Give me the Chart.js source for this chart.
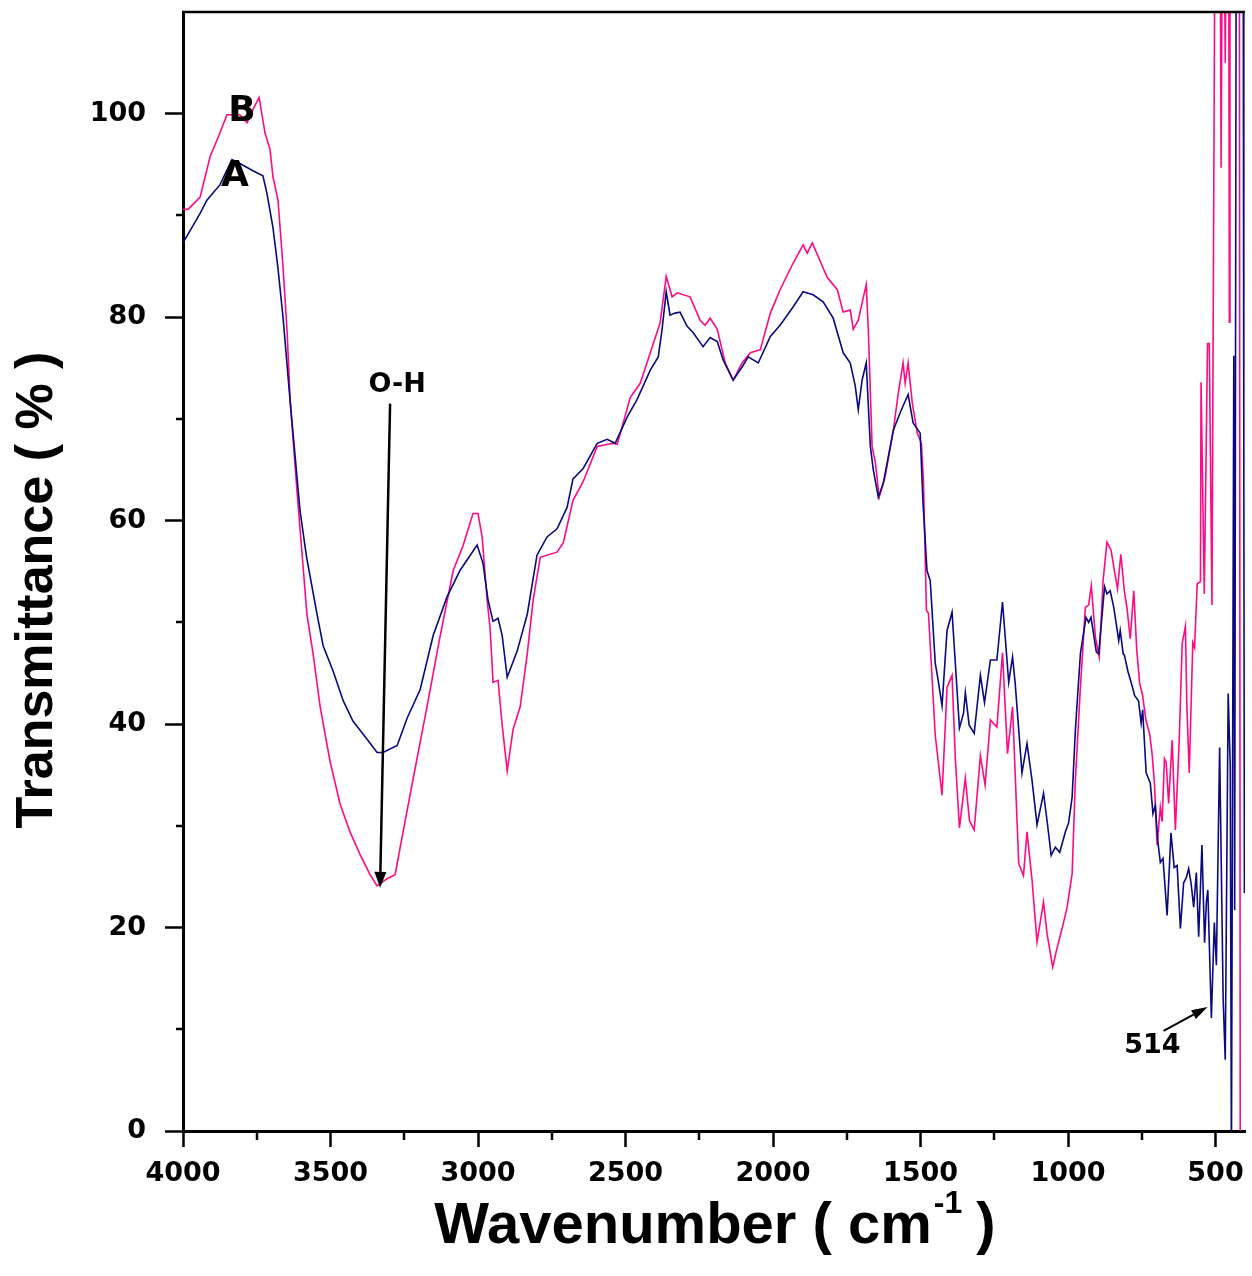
<!DOCTYPE html>
<html>
<head>
<meta charset="utf-8">
<script src="https://cdn.jsdelivr.net/npm/chart.js@4.4.1/dist/chart.umd.min.js"></script>
<style>
  html, body { margin: 0; padding: 0; background: #fff; }
  #wrap { width: 1252px; height: 1276px; position: relative; }
  #ftir { display: block; }
</style>
</head>
<body>
<div id="wrap"><canvas id="ftir" width="1252" height="1276"></canvas></div>
<script>
// FTIR spectra, transmittance (%) vs wavenumber (cm-1)

// sample A (navy)
const waveA = [
  4000, 3976, 3942, 3919, 3875, 3834, 3807, 3763, 3729, 3715,
  3695, 3678, 3661, 3637, 3603, 3581, 3547, 3525, 3491, 3457,
  3424, 3376, 3342, 3322, 3274, 3240, 3196, 3152, 3105, 3061,
  3003, 2983, 2966, 2949, 2932, 2918, 2901, 2867, 2833, 2800,
  2766, 2732, 2698, 2678, 2644, 2596, 2562, 2535, 2494, 2461,
  2416, 2389, 2376, 2362, 2349, 2332, 2315, 2291, 2271, 2237,
  2213, 2189, 2169, 2135, 2105, 2084, 2050, 2009, 1976, 1932,
  1898, 1864, 1830, 1796, 1762, 1738, 1721, 1711, 1698, 1684,
  1670, 1660, 1643, 1626, 1592, 1569, 1542, 1525, 1501, 1492,
  1478, 1467, 1450, 1440, 1427, 1410, 1393, 1382, 1368, 1354,
  1348, 1335, 1318, 1297, 1283, 1263, 1241, 1222, 1201, 1188,
  1179, 1156, 1139, 1122, 1105, 1083, 1071, 1057, 1043, 1028,
  1009, 998, 986, 975, 958, 939, 930, 922, 904, 896,
  876, 868, 857, 845, 828, 823, 813, 809, 797, 783,
  774, 761, 752, 747, 735, 721, 712, 704, 696, 687,
  678, 664, 651, 640, 630, 619, 608, 599, 591, 583,
  574, 565, 557, 546, 537, 531, 526, 514, 504, 497,
  486, 474, 467, 457, 450, 446, 438, 435, 430, 406,
  404, 402
];
const transA = [
  87.3, 88.5, 90.2, 91.5, 93.0, 95.5, 95.1, 94.4, 93.9, 92.1,
  88.8, 84.8, 80.0, 71.8, 60.9, 56.4, 51.0, 47.7, 45.2, 42.3,
  40.3, 38.5, 37.2, 37.2, 37.9, 40.6, 43.4, 48.7, 52.5, 55.1,
  57.6, 55.8, 52.2, 50.1, 50.4, 48.7, 44.6, 47.2, 50.8, 56.6,
  58.4, 59.2, 61.3, 64.1, 65.1, 67.6, 68.0, 67.6, 70.2, 71.9,
  74.8, 76.1, 78.8, 82.5, 80.2, 80.4, 80.5, 79.1, 78.5, 77.1,
  78.0, 77.6, 75.8, 73.8, 75.1, 76.1, 75.5, 78.1, 79.2, 81.0,
  82.5, 82.2, 81.5, 79.9, 76.5, 75.5, 73.2, 70.9, 73.8, 75.5,
  67.3, 65.0, 62.3, 63.7, 68.9, 70.6, 72.4, 69.6, 68.6, 62.0,
  55.1, 54.1, 46.0, 44.3, 41.8, 49.2, 51.0, 46.0, 39.6, 41.1,
  43.1, 39.9, 39.1, 44.8, 42.1, 46.3, 46.3, 52.0, 44.1, 46.6,
  44.0, 35.2, 38.1, 34.5, 30.1, 33.2, 30.5, 27.1, 27.9, 27.4,
  29.4, 30.3, 32.8, 39.4, 46.9, 50.5, 50.0, 50.5, 47.1, 46.9,
  53.5, 52.8, 53.1, 51.5, 48.2, 49.2, 46.9, 46.8, 45.2, 43.8,
  42.8, 42.3, 40.1, 41.4, 35.2, 34.2, 31.2, 32.0, 28.6, 26.4,
  26.8, 21.2, 29.3, 25.9, 26.1, 19.9, 24.4, 24.9, 25.8, 24.4,
  22.0, 25.4, 19.1, 28.1, 18.5, 22.5, 23.7, 11.1, 20.5, 16.3,
  37.7, 12.9, 7.0, 43.0, 35.8, -3, 76.2, 21.7, 115, 115,
  64.6, 23.4
];

// sample B (pink)
const waveB = [
  4000, 3983, 3942, 3908, 3875, 3851, 3807, 3783, 3763, 3742,
  3722, 3705, 3695, 3678, 3661, 3647, 3637, 3613, 3580, 3559,
  3535, 3502, 3468, 3434, 3400, 3366, 3342, 3308, 3281, 3254,
  3220, 3173, 3128, 3084, 3051, 3017, 3000, 2986, 2969, 2959,
  2949, 2932, 2918, 2901, 2881, 2857, 2833, 2813, 2789, 2732,
  2711, 2678, 2644, 2596, 2542, 2528, 2484, 2450, 2416, 2383,
  2362, 2342, 2325, 2281, 2247, 2230, 2213, 2189, 2162, 2135,
  2105, 2077, 2043, 2009, 1976, 1932, 1898, 1884, 1867, 1840,
  1816, 1782, 1762, 1738, 1728, 1711, 1698, 1684, 1677, 1664,
  1653, 1640, 1620, 1592, 1575, 1559, 1552, 1542, 1528, 1511,
  1497, 1490, 1480, 1473, 1450, 1439, 1427, 1410, 1393, 1382,
  1368, 1348, 1334, 1318, 1297, 1281, 1263, 1241, 1222, 1205,
  1188, 1167, 1151, 1139, 1122, 1105, 1083, 1071, 1052, 1037,
  1020, 1003, 986, 975, 958, 941, 930, 921, 907, 894,
  881, 868, 854, 843, 832, 821, 809, 800, 789, 777,
  767, 757, 747, 736, 723, 715, 707, 698, 687, 681,
  673, 667, 659, 647, 636, 623, 613, 602, 597, 589,
  577, 571, 562, 551, 549, 538, 527, 521, 512, 502,
  484, 481, 477, 470, 467, 464, 455, 453, 451, 419,
  416, 404
];
const transB = [
  90.6, 90.6, 91.8, 95.8, 98.1, 99.9, 99.9, 99.1, 100.4, 101.6,
  98.1, 96.5, 93.8, 91.5, 85.0, 78.5, 71.9, 62.7, 50.8, 46.9,
  41.7, 36.4, 32.2, 29.4, 27.2, 25.2, 24.1, 24.8, 25.2, 29.4,
  34.6, 41.7, 48.7, 55.1, 57.5, 60.7, 60.7, 58.4, 52.2, 49.4,
  44.1, 44.3, 39.9, 35.4, 39.5, 41.7, 46.9, 52.2, 56.4, 56.9,
  57.8, 62.0, 63.8, 67.3, 67.6, 67.5, 72.1, 73.5, 76.5, 79.4,
  84.0, 82.0, 82.4, 82.0, 79.7, 79.2, 79.9, 78.8, 75.5, 73.8,
  75.5, 76.5, 76.8, 80.4, 82.7, 85.3, 87.1, 86.3, 87.3, 85.5,
  83.9, 82.7, 80.5, 80.7, 78.8, 79.7, 81.4, 83.2, 78.8, 67.3,
  65.7, 62.3, 64.3, 68.9, 72.6, 75.5, 73.5, 75.5, 71.6, 68.6,
  67.6, 63.9, 51.2, 50.9, 38.9, 36.1, 33.0, 43.6, 44.8, 36.7,
  29.8, 34.7, 30.5, 29.6, 36.9, 34.0, 40.4, 39.7, 47.0, 37.1,
  41.7, 26.3, 25.1, 29.4, 24.7, 18.6, 22.5, 19.4, 16.1, 18.0,
  19.9, 22.0, 25.3, 34.5, 43.6, 51.5, 51.7, 53.6, 48.5, 46.6,
  54.1, 57.9, 57.1, 55.1, 53.3, 56.7, 53.1, 51.4, 48.4, 53.1,
  47.3, 44.0, 42.8, 40.4, 39.0, 37.1, 34.2, 28.1, 31.8, 30.4,
  36.6, 36.2, 32.2, 38.4, 29.6, 38.4, 47.9, 49.6, 41.7, 35.2,
  48.0, 47.5, 53.8, 54.0, 73.6, 52.8, 77.4, 77.4, 51.7, 118,
  118, 94.7, 118, 118, 105, 118, 118, 79.5, 118, 118,
  -5, -5
];

const xTicks = [4000, 3500, 3000, 2500, 2000, 1500, 1000, 500];
const xMinor = [3750, 3250, 2750, 2250, 1750, 1250, 750];
const yTicks = [0, 20, 40, 60, 80, 100];
const yMinor = [10, 30, 50, 70, 90];

const seriesLabels = ['A', 'B'];
const NAVY = '#0a0a80';
const PINK = '#ff0a84';

function toPoints(ws, ts) {
  return ws.map((w, i) => ({ x: w, y: ts[i] }));
}

function arrow(ctx, x0, y0, x1, y1, head, halfW) {
  const ang = Math.atan2(y1 - y0, x1 - x0);
  const bx = x1 - head * Math.cos(ang), by = y1 - head * Math.sin(ang);
  ctx.beginPath();
  ctx.moveTo(x0, y0);
  ctx.lineTo(bx, by);
  ctx.stroke();
  ctx.beginPath();
  ctx.moveTo(x1, y1);
  ctx.lineTo(bx + halfW * Math.sin(ang), by - halfW * Math.cos(ang));
  ctx.lineTo(bx - halfW * Math.sin(ang), by + halfW * Math.cos(ang));
  ctx.closePath();
  ctx.fill();
}

// frame, minor ticks, axis titles and peak annotations
const spectrumDecor = {
  id: 'spectrumDecor',
  afterDraw(chart) {
    const { ctx, chartArea: a, scales: { x, y } } = chart;
    ctx.save();
    ctx.strokeStyle = '#000';
    ctx.fillStyle = '#000';

    ctx.lineWidth = 2.5;
    ctx.beginPath();
    ctx.moveTo(a.left - 1, a.top);
    ctx.lineTo(a.right, a.top);
    ctx.stroke();

    ctx.lineWidth = 2.5;
    xMinor.forEach(v => {
      const px = Math.round(x.getPixelForValue(v));
      ctx.beginPath(); ctx.moveTo(px, a.bottom); ctx.lineTo(px, a.bottom + 9); ctx.stroke();
    });
    yMinor.forEach(v => {
      const py = Math.round(y.getPixelForValue(v));
      ctx.beginPath(); ctx.moveTo(a.left, py); ctx.lineTo(a.left - 7, py); ctx.stroke();
    });

    // y title
    ctx.save();
    ctx.translate(52, 590);
    ctx.rotate(-Math.PI / 2);
    ctx.font = 'bold 52px "Liberation Sans", Arial, sans-serif';
    ctx.textAlign = 'center';
    ctx.textBaseline = 'alphabetic';
    ctx.fillText('Transmittance ( % )', 0, 0);
    ctx.restore();

    // x title with superscript
    const big = 'bold 58px "Liberation Sans", Arial, sans-serif';
    const small = 'bold 32px "Liberation Sans", Arial, sans-serif';
    const p1 = 'Wavenumber ( cm', p2 = '-1', p3 = ' )';
    ctx.font = big; const w1 = ctx.measureText(p1).width, w3 = ctx.measureText(p3).width;
    ctx.font = small; const w2 = ctx.measureText(p2).width;
    let tx = 715 - (w1 + w2 + w3) / 2;
    const base = 1243;
    ctx.textAlign = 'left';
    ctx.font = big; ctx.fillText(p1, tx, base); tx += w1;
    ctx.font = small; ctx.fillText(p2, tx + 2, base - 30); tx += w2;
    ctx.font = big; ctx.fillText(p3, tx, base);

    // series and band labels
    ctx.textAlign = 'center';
    ctx.textBaseline = 'middle';
    ctx.font = 'bold 36px "DejaVu Sans", sans-serif';
    ctx.fillText(seriesLabels[0], x.getPixelForValue(3824), y.getPixelForValue(93.8));
    ctx.fillText(seriesLabels[1], x.getPixelForValue(3800), y.getPixelForValue(100.2));

    ctx.font = 'bold 27px "DejaVu Sans", sans-serif';
    ctx.fillText('O-H', x.getPixelForValue(3274), y.getPixelForValue(73.3));
    ctx.fillText('514', x.getPixelForValue(714), y.getPixelForValue(8.35));

    ctx.lineWidth = 2.5;
    arrow(ctx, x.getPixelForValue(3298), y.getPixelForValue(71.5),
      x.getPixelForValue(3332), y.getPixelForValue(23.9), 16, 6);
    ctx.lineWidth = 2;
    arrow(ctx, x.getPixelForValue(676), y.getPixelForValue(9.85),
      x.getPixelForValue(527), y.getPixelForValue(12.2), 16, 5);

    ctx.restore();
  }
};

const tickFont = { family: 'DejaVu Sans', weight: 'bold', size: 27 };

new Chart(document.getElementById('ftir'), {
  type: 'line',
  data: {
    datasets: [
      { label: seriesLabels[0], data: toPoints(waveA, transA), borderColor: NAVY, borderWidth: 1.6 },
      { label: seriesLabels[1], data: toPoints(waveB, transB), borderColor: PINK, borderWidth: 1.6 }
    ]
  },
  options: {
    responsive: false,
    animation: false,
    events: [],
    layout: { padding: { left: 0, right: 7, top: 12, bottom: 0 } },
    elements: { point: { radius: 0 }, line: { tension: 0 } },
    plugins: { legend: { display: false }, tooltip: { enabled: false } },
    scales: {
      x: {
        type: 'linear',
        reverse: true,
        min: 400,
        max: 4000,
        afterBuildTicks: s => { s.ticks = xTicks.map(v => ({ value: v })); },
        afterFit: s => { s.height = 145; s.paddingLeft = 0; s.paddingRight = 0; },
        border: { display: true, color: '#000', width: 3 },
        grid: { drawOnChartArea: false, drawTicks: true, tickLength: 16, tickWidth: 2.5, tickColor: '#000' },
        ticks: { font: tickFont, color: '#000', padding: 11, maxRotation: 0, autoSkip: false, callback: v => String(v) }
      },
      y: {
        min: 0,
        max: 110,
        afterBuildTicks: s => { s.ticks = yTicks.map(v => ({ value: v })); },
        afterFit: s => { s.width = 183; s.paddingTop = 0; s.paddingBottom = 0; },
        border: { display: true, color: '#000', width: 3 },
        grid: { drawOnChartArea: false, drawTicks: true, tickLength: 18, tickWidth: 2.5, tickColor: '#000' },
        ticks: { font: tickFont, color: '#000', padding: 19, callback: v => String(v) }
      }
    }
  },
  plugins: [spectrumDecor]
});
</script>
</body>
</html>
